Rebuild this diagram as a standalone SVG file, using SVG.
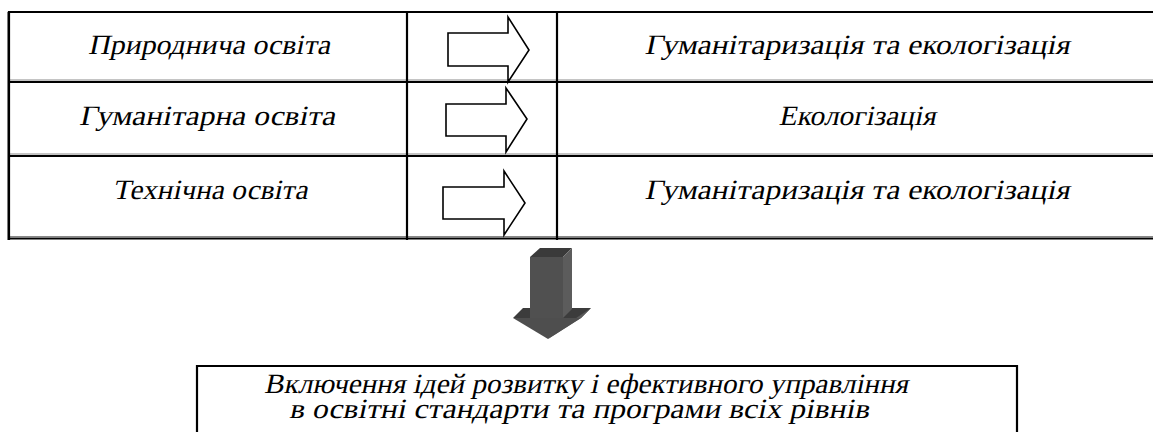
<svg xmlns="http://www.w3.org/2000/svg" width="1153" height="432" viewBox="0 0 1153 432">
<style>
.t{font-size:28px;fill:#000;text-anchor:middle}
.ln{stroke:#000;stroke-width:2.2;fill:none}
.sh{stroke:#888;stroke-width:1;fill:none}
.ha{fill:#fff;stroke:#000;stroke-width:1.6;stroke-linejoin:miter}
</style>
<rect width="1153" height="432" fill="#fff"/>
<g id="table">
<line class="sh" x1="9" y1="80" x2="1153" y2="80"/>
<line class="sh" x1="9" y1="154" x2="1153" y2="154"/>
<line class="sh" x1="9" y1="236.5" x2="1153" y2="236.5"/>
<line class="sh" x1="7.5" y1="12" x2="7.5" y2="240"/>
<line class="ln" x1="8" y1="12" x2="1153" y2="12"/>
<line class="ln" x1="9" y1="82" x2="1153" y2="82"/>
<line class="ln" x1="9" y1="156" x2="1153" y2="156"/>
<line class="ln" x1="9" y1="238.5" x2="1153" y2="238.5"/>
<line class="ln" x1="9" y1="11" x2="9" y2="240"/>
<line class="ln" x1="407" y1="11" x2="407" y2="240"/>
<line class="ln" x1="557" y1="11" x2="557" y2="240"/>
</g>
<g id="row1">
<text class="t" font-family="Liberation Serif" transform="translate(209,54) skewX(-12)" textLength="242" lengthAdjust="spacingAndGlyphs">Природнича освіта</text>
<text class="t" font-family="Liberation Serif" transform="translate(857,54) skewX(-12)" textLength="425" lengthAdjust="spacingAndGlyphs">Гуманітаризація та екологізація</text>
</g>
<g id="row2">
<text class="t" font-family="Liberation Serif" transform="translate(207,125) skewX(-12)" textLength="256" lengthAdjust="spacingAndGlyphs">Гуманітарна освіта</text>
<text class="t" font-family="Liberation Serif" transform="translate(857,125) skewX(-12)" textLength="157" lengthAdjust="spacingAndGlyphs">Екологізація</text>
</g>
<g id="row3">
<text class="t" font-family="Liberation Serif" transform="translate(210,199) skewX(-12)" textLength="195" lengthAdjust="spacingAndGlyphs">Технічна освіта</text>
<text class="t" font-family="Liberation Serif" transform="translate(857,199) skewX(-12)" textLength="425" lengthAdjust="spacingAndGlyphs">Гуманітаризація та екологізація</text>
</g>
<g id="connectors">
<polygon class="ha" points="448,33 508,33 508,17 529,50 508,82 508,66 448,66"/>
<polygon class="ha" points="446,104 506,104 506,88 527,119 506,152 506,136 446,136"/>
<polygon class="ha" points="443,187 504,187 504,171 525,203 504,235 504,219 443,219"/>
<g id="down-arrow">
<polygon points="513,318 523,308 591,308 581,318" fill="#3c3c3c"/>
<polygon points="581,318 591,308 557,331 548,339" fill="#5a5a5a"/>
<polygon points="513,318 581,318 548,339" fill="#4e4e4e"/>
<polygon points="530,257 540,248 572,248 563,257" fill="#3a3a3a"/>
<polygon points="563,257 572,248 572,309 563,318" fill="#5c5c5c"/>
<rect x="530" y="257" width="33" height="61" fill="#505050"/>
</g>
</g>
<g id="result">
<polyline class="ln" points="197,432 197,366 1017,366 1017,432"/>
<text class="t" font-family="Liberation Serif" transform="translate(586,393) skewX(-12)" textLength="644" lengthAdjust="spacingAndGlyphs">Включення ідей розвитку і ефективного управління</text>
<text class="t" font-family="Liberation Serif" transform="translate(579,418) skewX(-12)" textLength="580" lengthAdjust="spacingAndGlyphs">в освітні стандарти та програми всіх рівнів</text>
</g>
</svg>
